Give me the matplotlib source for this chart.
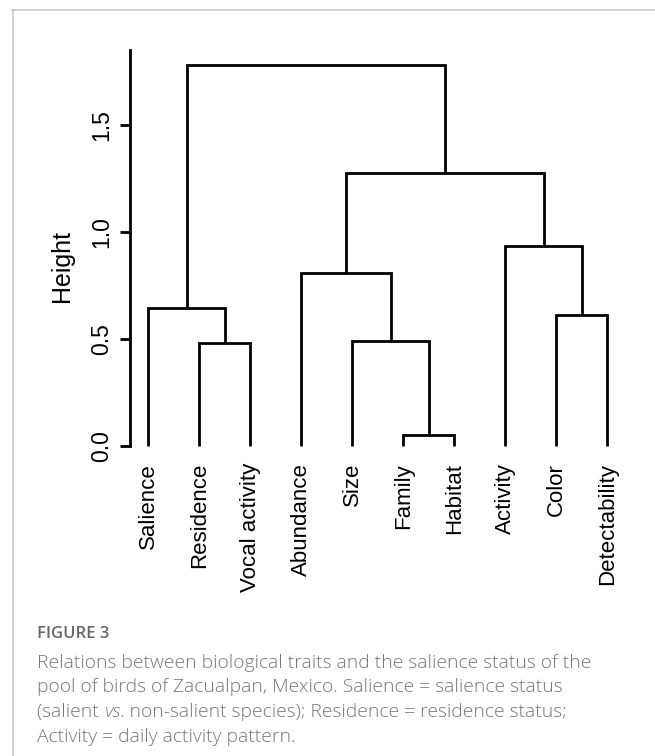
import matplotlib
matplotlib.use("Agg")
import matplotlib.pyplot as plt
from matplotlib.lines import Line2D

# ---- data ----
leaf_labels = ["Salience", "Residence", "Vocal activity", "Abundance", "Size",
               "Family", "Habitat", "Activity", "Color", "Detectability"]
# R-style merge matrix: negative = leaf index (1-based), positive = earlier merge
merge_left = [-6, -2, -5, -9, -1, -4, -8, 6, 5]
merge_right = [-7, -3, 1, -10, 2, 3, 4, 7, 8]
merge_height = [0.05, 0.48, 0.49, 0.61, 0.645, 0.81, 0.935, 1.275, 1.78]
y_ticks = [0.0, 0.5, 1.0, 1.5]
y_tick_labels = ["0.0", "0.5", "1.0", "1.5"]

W, H = 655, 756
fig = plt.figure(figsize=(W / 100, H / 100), dpi=100)

# light gray frame (top + left)
fig.add_artist(Line2D([12 / W, 1.0], [1 - 9.5 / H, 1 - 9.5 / H], color="#c8c8c8", lw=1.2))
fig.add_artist(Line2D([13 / W, 13 / W], [0, 1 - 9.5 / H], color="#c8c8c8", lw=1.2))

ax = fig.add_axes([130 / W, 295 / H, (625.6 - 130) / W, (706 - 295) / H])
n = len(leaf_labels)
ymax = max(merge_height)
ax.set_xlim(1 - 0.04 * (n - 1), n + 0.04 * (n - 1))
ax.set_ylim(-0.04 * ymax, ymax * 1.04)

pos = {}
hgt = {}
for i in range(n):
    pos[-(i + 1)] = i + 1
    hgt[-(i + 1)] = 0.0

lw = 2.0
for k, (a, b, h) in enumerate(zip(merge_left, merge_right, merge_height), start=1):
    xa, xb = pos[a], pos[b]
    ha, hb = hgt[a], hgt[b]
    ax.plot([xa, xa, xb, xb], [ha, h, h, hb], color="black", lw=lw,
            solid_capstyle="butt", solid_joinstyle="miter")
    pos[k] = (xa + xb) / 2
    hgt[k] = h

for s in ["top", "right", "bottom"]:
    ax.spines[s].set_visible(False)
ax.spines["left"].set_linewidth(lw)
ax.spines["left"].set_bounds(0, ymax * 1.04)

label_font = ["Liberation Sans", "DejaVu Sans"]
ax.set_xticks(range(1, n + 1))
ax.set_xticklabels(leaf_labels, rotation=90, fontsize=16, family=label_font,
                   va="top", ha="center")
ax.tick_params(axis="x", length=0, pad=1.5)

ax.set_yticks(y_ticks)
ax.set_yticklabels(y_tick_labels, rotation=90, va="center", fontsize=16.5,
                   family=label_font)
ax.tick_params(axis="y", length=7, width=lw, pad=5)

ax.set_ylabel("Height", fontsize=18, family=label_font)
ax.yaxis.set_label_coords(-0.113, 0.475)

# caption
cap_font = ["Open Sans", "DejaVu Sans"]
x0 = 37 / W
fig.text(x0, 1 - 638 / H, "FIGURE 3", fontsize=12, color="#666666",
         family=cap_font, va="baseline", fontweight="semibold")
cap_color = "#777777"
cap_size = 13.85
base = 668
step = 24.5
lines = [
    [("Relations between biological traits and the salience status of the", "normal")],
    [("pool of birds of Zacualpan, Mexico. Salience = salience status", "normal")],
    [("(salient ", "normal"), ("vs", "italic"),
     (". non-salient species); Residence = residence status;", "normal")],
    [("Activity = daily activity pattern.", "normal")],
]
fig.canvas.draw()
renderer = fig.canvas.get_renderer()
for i, parts in enumerate(lines):
    y = 1 - (base + i * step) / H
    x = x0
    for txt, style in parts:
        t = fig.text(x, y, txt, fontsize=cap_size, color=cap_color, family=cap_font,
                     va="baseline", fontweight="light", fontstyle=style)
        bb = t.get_window_extent(renderer=renderer)
        x += bb.width / W

fig.savefig("out.png", dpi=100)
